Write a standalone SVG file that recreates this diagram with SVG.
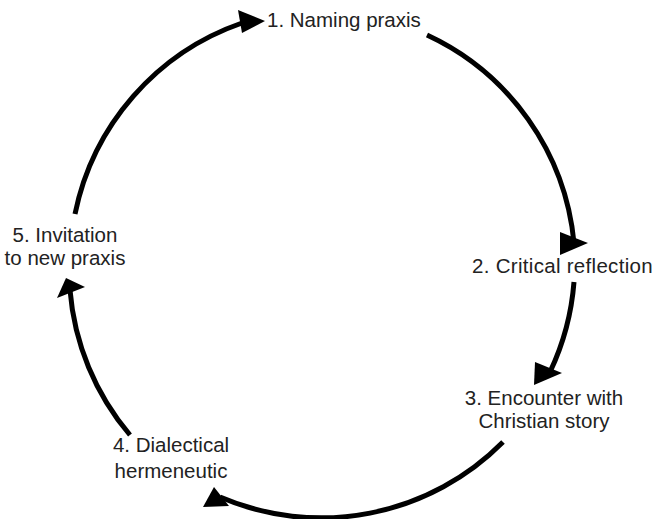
<svg xmlns="http://www.w3.org/2000/svg" width="655" height="519" viewBox="0 0 655 519">
<style>
.lbl{font-family:"Liberation Sans",Arial,sans-serif;font-size:20.5px;fill:#222}
.arc{fill:none;stroke:#000;stroke-width:5}
.head{fill:#000}
</style>
<rect width="655" height="519" fill="#fff"/>
<g id="connectors">
<path class="arc" d="M75,214 A256,256 0 0 1 242,23"/>
<path class="head" d="M265,21 L238,10 L242,33 Z"/>
<path class="arc" d="M427,35 A256,256 0 0 1 574,243"/>
<path class="head" d="M588,243 L560,232 L560,255 Z"/>
<path class="arc" d="M574,282 A256,256 0 0 1 550,372"/>
<path class="head" d="M562,373 L535,362 L534,385 Z"/>
<path class="arc" d="M503,442 A256,256 0 0 1 220,497"/>
<path class="head" d="M203,507 L214,487 L229,506 Z"/>
<path class="arc" d="M130,435 A256,256 0 0 1 70,290"/>
<path class="head" d="M85,287 L66,278 L57,298 Z"/>
</g>
<g id="node1"><text class="lbl" x="267" y="27">1. Naming praxis</text></g>
<g id="node2"><text class="lbl" x="472" y="273" letter-spacing="0.3">2. Critical reflection</text></g>
<g id="node3"><text class="lbl" x="544" y="405" text-anchor="middle">3. Encounter with</text><text class="lbl" x="544" y="428" text-anchor="middle">Christian story</text></g>
<g id="node4"><text class="lbl" x="171" y="452" text-anchor="middle">4. Dialectical</text><text class="lbl" x="171" y="478" text-anchor="middle">hermeneutic</text></g>
<g id="node5"><text class="lbl" x="65" y="242" text-anchor="middle">5. Invitation</text><text class="lbl" x="65" y="265" text-anchor="middle">to new praxis</text></g>
</svg>
